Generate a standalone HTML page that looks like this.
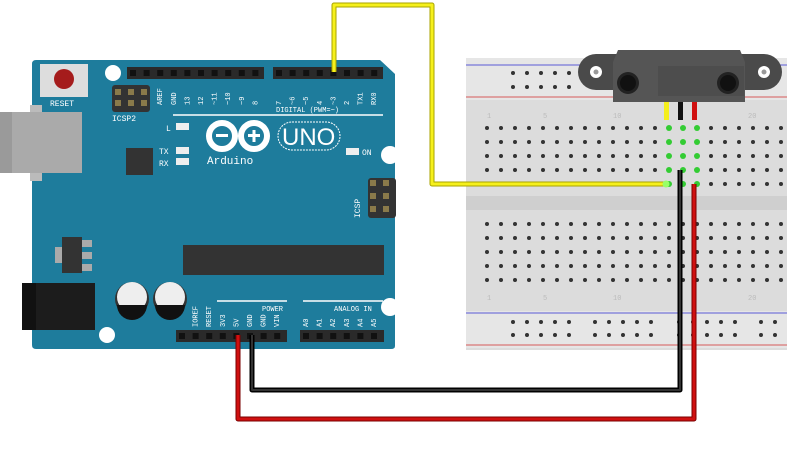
<!DOCTYPE html>
<html><head><meta charset="utf-8"><style>
html,body{margin:0;padding:0;background:#fff;width:787px;height:449px;overflow:hidden}
svg{display:block}
text{font-family:"Liberation Mono",monospace;fill:#fff}
</style></head><body>
<svg id="s" width="787" height="449" viewBox="0 0 787 449" xmlns="http://www.w3.org/2000/svg">
<rect x="466" y="58" width="321" height="292" fill="#dcdcdc"/>
<rect x="466" y="58" width="321" height="42" fill="#e6e6e6"/>
<rect x="466" y="311" width="321" height="37" fill="#e6e6e6"/>
<line x1="466" y1="65" x2="787" y2="65" stroke="#5b5bd6" stroke-width="1"/>
<line x1="466" y1="97" x2="787" y2="97" stroke="#d65b5b" stroke-width="1"/>
<line x1="466" y1="313" x2="787" y2="313" stroke="#5b5bd6" stroke-width="1"/>
<line x1="466" y1="345" x2="787" y2="345" stroke="#d65b5b" stroke-width="1"/>
<rect x="466" y="196" width="321" height="14" fill="#cfcfcf"/>
<g id="holes"></g>
<g font-size="7">
<text x="487" y="118" style="fill:#bbb">1</text><text x="543" y="118" style="fill:#bbb">5</text><text x="613" y="118" style="fill:#bbb">10</text><text x="748" y="118" style="fill:#bbb">20</text>
<text x="487" y="300" style="fill:#bbb">1</text><text x="543" y="300" style="fill:#bbb">5</text><text x="613" y="300" style="fill:#bbb">10</text><text x="748" y="300" style="fill:#bbb">20</text>
</g>
<rect x="578" y="54" width="204" height="36" rx="18" fill="#4a4a4a"/>
<circle cx="596" cy="72" r="6" fill="#fff"/><circle cx="596" cy="72" r="2.5" fill="#999"/>
<circle cx="764" cy="72" r="6" fill="#fff"/><circle cx="764" cy="72" r="2.5" fill="#999"/>
<path d="M618 50 H740 L745 62 V102 H613 V62 Z" fill="#555"/>
<rect x="658" y="66" width="86" height="30" fill="#4d4d4d"/>
<circle cx="628" cy="83" r="11" fill="#222"/><circle cx="628" cy="83" r="8" fill="#111"/>
<circle cx="728" cy="83" r="11" fill="#222"/><circle cx="728" cy="83" r="8" fill="#111"/>
<rect x="664" y="102" width="5" height="18" fill="#f4ee1c"/>
<rect x="678" y="102" width="5" height="18" fill="#111"/>
<rect x="692" y="102" width="5" height="18" fill="#d01010"/>
<path d="M36 60 H380 L395 74 V346 Q395 349 391 349 H36 Q32 349 32 345 V64 Q32 60 36 60Z" fill="#1e7c9c"/>
<rect x="30" y="105" width="12" height="76" fill="#bbb"/>
<rect x="0" y="112" width="82" height="61" fill="#aaa"/>
<rect x="0" y="112" width="12" height="61" fill="#9a9a9a"/>
<rect x="40" y="64" width="48" height="33" fill="#ddd"/>
<circle cx="64" cy="79" r="10" fill="#a51c1c"/>
<text x="50" y="106" font-size="8">RESET</text>
<circle cx="113" cy="73" r="8" fill="#fff"/>
<circle cx="390" cy="155" r="9" fill="#fff"/>
<circle cx="390" cy="307" r="9" fill="#fff"/>
<circle cx="107" cy="335" r="8" fill="#fff"/>
<rect x="112" y="85" width="38" height="27" rx="3" fill="#333"/>
<rect x="126" y="148" width="27" height="27" fill="#333"/>
<rect x="55" y="247" width="10" height="16" fill="#aaa"/>
<rect x="62" y="237" width="20" height="36" fill="#333"/>
<rect x="82" y="240" width="10" height="7" fill="#aaa"/><rect x="82" y="252" width="10" height="7" fill="#aaa"/><rect x="82" y="264" width="10" height="7" fill="#aaa"/>
<rect x="22" y="283" width="73" height="47" fill="#1c1c1c"/>
<rect x="22" y="283" width="14" height="47" fill="#111"/>
<circle cx="132" cy="299" r="17" fill="#333"/><circle cx="132" cy="297" r="15" fill="#eee"/><path d="M117 305 H147 A15 15 0 0 1 117 305Z" fill="#111"/>
<circle cx="170" cy="299" r="17" fill="#333"/><circle cx="170" cy="297" r="15" fill="#eee"/><path d="M155 305 H185 A15 15 0 0 1 155 305Z" fill="#111"/>
<rect x="183" y="245" width="201" height="30" fill="#333"/>
<rect x="368" y="178" width="28" height="40" rx="3" fill="#333"/>
<text x="360" y="218" font-size="8" transform="rotate(-90 360 218)">ICSP</text>
<rect x="127" y="67" width="137" height="12" fill="#2a2a2a"/>
<rect x="273" y="67" width="110" height="12" fill="#2a2a2a"/>
<rect x="176" y="330" width="111" height="12" fill="#2a2a2a"/>
<rect x="300" y="330" width="84" height="12" fill="#2a2a2a"/>
<g id="pins"></g>
<line x1="173" y1="115" x2="383" y2="115" stroke="#fff" stroke-width="1.5"/>
<line x1="217" y1="301" x2="287" y2="301" stroke="#fff" stroke-width="1.5"/>
<line x1="303" y1="301" x2="383" y2="301" stroke="#fff" stroke-width="1.5"/>
<text x="276" y="112" font-size="7">DIGITAL (PWM=~)</text>
<text x="262" y="311" font-size="7">POWER</text>
<text x="334" y="311" font-size="7">ANALOG IN</text>
<text x="112" y="121" font-size="8">ICSP2</text>
<text x="166" y="131" font-size="8">L</text><rect x="176" y="123" width="13" height="7" fill="#eee"/>
<text x="159" y="154" font-size="8">TX</text><rect x="176" y="147" width="13" height="7" fill="#eee"/>
<text x="159" y="166" font-size="8">RX</text><rect x="176" y="158" width="13" height="7" fill="#eee"/>
<rect x="346" y="148" width="13" height="7" fill="#eee"/><text x="362" y="155" font-size="8">ON</text>
<circle cx="222" cy="136" r="13" fill="none" stroke="#fff" stroke-width="6"/>
<circle cx="254" cy="136" r="13" fill="none" stroke="#fff" stroke-width="6"/>
<rect x="216" y="134" width="12" height="3" fill="#fff"/><rect x="248" y="134" width="12" height="3" fill="#fff"/><rect x="252.5" y="130" width="3" height="12" fill="#fff"/>
<rect x="278" y="122" width="62" height="28" rx="14" fill="none" stroke="#fff" stroke-width="1" stroke-dasharray="2 1"/>
<text x="282" y="145" font-size="24" style="font-family:'Liberation Sans',sans-serif">UNO</text>
<text x="207" y="164" font-size="11">Arduino</text>
<g id="labels" font-size="7"></g>
<g fill="none" stroke-linejoin="round">
<path d="M334 72 V5 H432 V184 H666" stroke="#a8a300" stroke-width="5"/>
<path d="M334 72 V5 H432 V184 H666" stroke="#f6f01c" stroke-width="3"/>
<path d="M252 335 V390 H680 V170" stroke="#000" stroke-width="5"/>
<path d="M252 335 V390 H680 V170" stroke="#333" stroke-width="2"/>
<path d="M238 335 V419 H694 V184" stroke="#7a0000" stroke-width="5"/>
<path d="M238 335 V419 H694 V184" stroke="#d01010" stroke-width="3"/>
</g>
<circle cx="666" cy="184" r="3.5" fill="#9f6"/>
</svg>
<script>
var ns="http://www.w3.org/2000/svg";
function el(p,t,a){var e=document.createElementNS(ns,t);for(var k in a)e.setAttribute(k,a[k]);p.appendChild(e);return e;}
var h=document.getElementById("holes");
var rows=[128,142,156,170,184,224,238,252,266,280];
for(var i=0;i<22;i++){var x=487+14*i;for(var r=0;r<rows.length;r++){var g=(x>=660&&x<=700&&r<5);el(h,"circle",{cx:x,cy:rows[r],r:g?3:2,fill:g?"#3c3":"#333"});}}
var rx=[];[513,595,679,761].forEach(function(s){for(var j=0;j<5;j++)rx.push(s+14*j);});
rx.forEach(function(x){[73,87,322,335].forEach(function(y){if((y<100)&&x>575&&x<785)return;el(h,"circle",{cx:x,cy:y,r:2,fill:"#333"});});});
var p=document.getElementById("pins");
function row(x0,n,step,y){for(var i=0;i<n;i++)el(p,"rect",{x:x0+i*step,y:y,width:6,height:6,fill:"#111"});}
row(130,10,13.6,70);row(276,8,13.6,70);row(179,8,13.6,333);row(303,6,13.6,333);
[[117,91],[130,91],[143,91],[117,102],[130,102],[143,102],[372,182],[385,182],[372,195],[385,195],[372,208],[385,208]].forEach(function(c){el(p,"rect",{x:c[0]-2,y:c[1]-2,width:6,height:6,fill:"#8a7a4a"});});
var L=document.getElementById("labels");
function lab(x0,step,y,arr){arr.forEach(function(s,i){var x=x0+i*step+5;var t=el(L,"text",{x:x,y:y,transform:"rotate(-90 "+x+" "+y+")"});t.textContent=s;});}
lab(157.2,13.6,105,["AREF","GND","13","12","~11","~10","~9","8"]);
lab(276,13.6,105,["7","~6","~5","4","~3","2","TX1","RX0"]);
lab(192.6,13.6,327,["IOREF","RESET","3V3","5V","GND","GND","VIN"]);
lab(303,13.6,327,["A0","A1","A2","A3","A4","A5"]);
</script>
</body></html>
